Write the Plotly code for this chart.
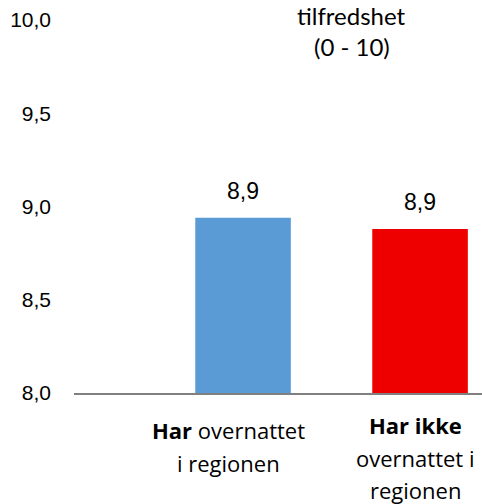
import plotly.graph_objects as go

category_lines = [
    ["<b>Har</b> overnattet", "i regionen"],
    ["<b>Har ikke</b>", "overnattet i", "regionen"],
]
values = [8.94, 8.88]
colors = ["#5B9BD5", "#EE0000"]
y_ticks = [8.0, 8.5, 9.0, 9.5, 10.0]
title_lines = ["tilfredshet", "(0 - 10)"]

xpos = list(range(len(values)))

fig = go.Figure()
fig.add_trace(go.Bar(
    x=xpos,
    y=values,
    marker=dict(color=colors, line=dict(width=0)),
    width=0.54,
    showlegend=False,
    hoverinfo="skip",
))

# value labels above the bars
for xi, v in zip(xpos, values):
    fig.add_annotation(
        x=xi, y=v,
        text=f"{v:.1f}".replace(".", ","),
        showarrow=False,
        yanchor="bottom",
        yshift=12,
        font=dict(family="Liberation Sans, Arial", size=23, color="black"),
    )

# category labels, one annotation per line to get the looser line spacing
label_xshift = [-15, -5]
label_yshift = [-37, -32]
for xi, lines, dx, dy in zip(xpos, category_lines, label_xshift, label_yshift):
    for j, line in enumerate(lines):
        fig.add_annotation(
            x=xi, xref="x", y=0, yref="paper",
            text=line, showarrow=False,
            xanchor="center", yanchor="middle",
            xshift=dx, yshift=dy - 32.5 * j,
            font=dict(family="Open Sans, sans-serif", size=22, color="black"),
        )

# chart title (top right)
for j, line in enumerate(title_lines):
    fig.add_annotation(
        xref="paper", yref="paper",
        x=0.681, y=1, xanchor="center", yanchor="middle",
        yshift=5 - 31 * j,
        text=line, showarrow=False,
        font=dict(family="Lato, sans-serif", size=24, color="black"),
    )

fig.update_layout(
    width=482,
    height=504,
    margin=dict(l=74, r=0, t=20, b=111),
    plot_bgcolor="white",
    paper_bgcolor="white",
    xaxis=dict(
        range=[-0.955, 1.35],
        showticklabels=False,
        showline=True,
        linecolor="#808080",
        linewidth=1.5,
        showgrid=False,
        zeroline=False,
        ticks="",
    ),
    yaxis=dict(
        range=[8, 10],
        tickvals=y_ticks,
        ticktext=[f"{t:.1f}".replace(".", ",") for t in y_ticks],
        showline=False,
        showgrid=False,
        zeroline=False,
        ticks="",
        ticklabelstandoff=22,
        tickfont=dict(family="Liberation Sans, Arial", size=21, color="black"),
    ),
)

fig.write_html("out.html", config={"displayModeBar": False},
               post_script="document.body.style.margin = '0';")
